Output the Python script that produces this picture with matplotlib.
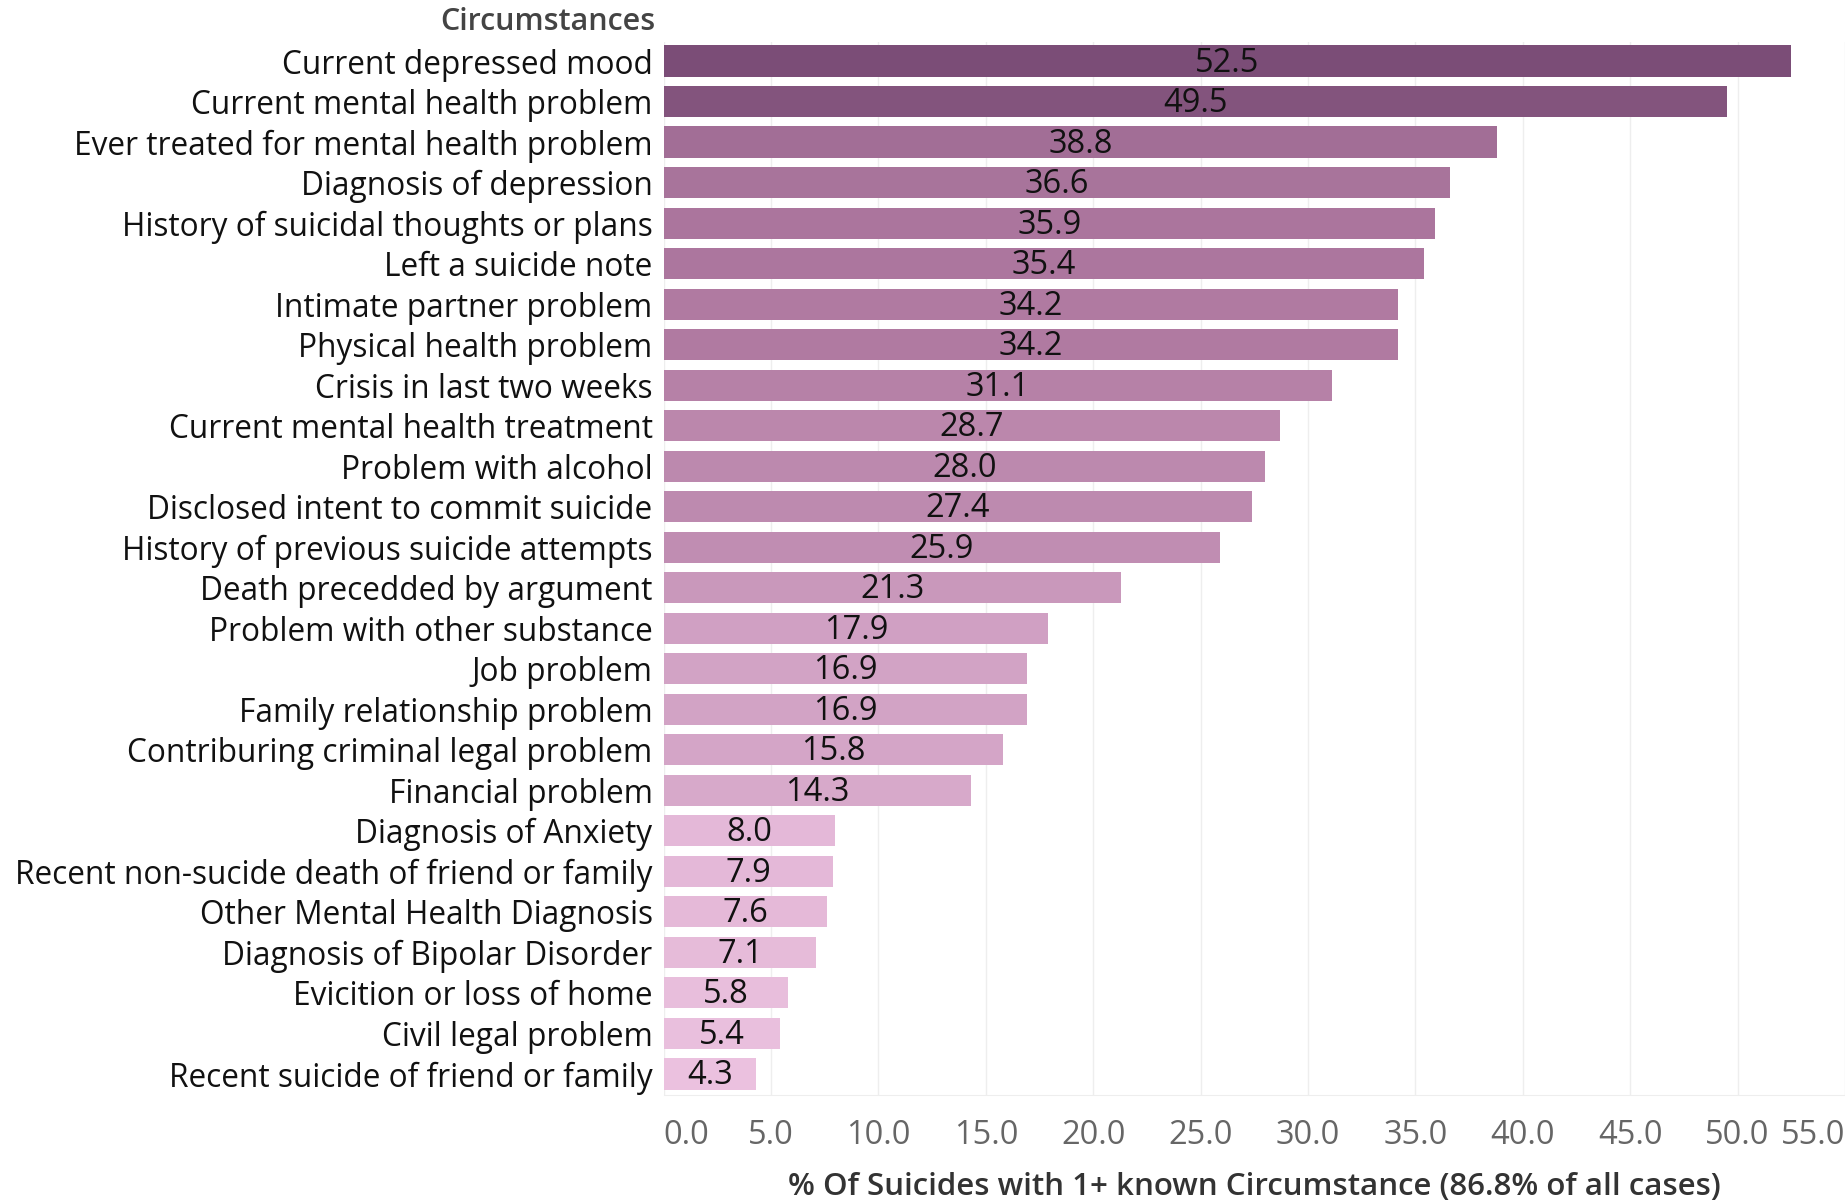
import matplotlib
matplotlib.use("Agg")
import matplotlib.pyplot as plt
from matplotlib.colors import LinearSegmentedColormap, Normalize

categories = [
    "Current depressed mood",
    "Current mental health problem",
    "Ever treated for mental health problem",
    "Diagnosis of depression",
    "History of suicidal thoughts or plans",
    "Left a suicide note",
    "Intimate partner problem",
    "Physical health problem",
    "Crisis in last two weeks",
    "Current mental health treatment",
    "Problem with alcohol",
    "Disclosed intent to commit suicide",
    "History of previous suicide attempts",
    "Death precedded by argument",
    "Problem with other substance",
    "Job problem",
    "Family relationship problem",
    "Contriburing criminal legal problem",
    "Financial problem",
    "Diagnosis of Anxiety",
    "Recent non-sucide death of friend or family",
    "Other Mental Health Diagnosis",
    "Diagnosis of Bipolar Disorder",
    "Evicition or loss of home",
    "Civil legal problem",
    "Recent suicide of friend or family",
]
values = [52.5, 49.5, 38.8, 36.6, 35.9, 35.4, 34.2, 34.2, 31.1, 28.7, 28.0, 27.4,
          25.9, 21.3, 17.9, 16.9, 16.9, 15.8, 14.3, 8.0, 7.9, 7.6, 7.1, 5.8, 5.4, 4.3]
xticks = [0, 5, 10, 15, 20, 25, 30, 35, 40, 45, 50, 55]
header = "Circumstances"
xlabel = "% Of Suicides with 1+ known Circumstance (86.8% of all cases)"

plt.rcParams['font.family'] = ['Open Sans', 'DejaVu Sans']

fig = plt.figure(figsize=(18.45, 12), dpi=100)
ax = fig.add_axes([0.3597, 0.0875, 0.6403, 0.8775])

vmin, vmax = min(values), max(values)
cmap = LinearSegmentedColormap.from_list(
    "purp", [(0.0, "#EBC1DF"), ((34.0 - vmin) / (vmax - vmin), "#B07AA1"), (1.0, "#7B4D77")])
norm = Normalize(vmin=vmin, vmax=vmax)

y = list(range(len(categories)))
ax.barh(y, values, height=0.77, color=[cmap(norm(v)) for v in values], zorder=2)
for yi, v in zip(y, values):
    ax.text(v / 2, yi + 0.05, f"{v:.1f}", ha="center", va="center", fontsize=23.5,
            color="#111111", zorder=3)

ax.set_ylim(len(categories) - 0.5 + 0.02, -0.47)
ax.set_xlim(0, 55)
ax.set_yticks(y)
ax.set_yticklabels(categories, fontsize=22.8, color="#111111")
ax.tick_params(axis="y", length=0, pad=8)
ax.set_xticks(xticks)
labels = ax.set_xticklabels([f"{t:.1f}" for t in xticks], fontsize=23.5, color="#666666")
labels[0].set_ha("left")
labels[-1].set_ha("right")
ax.tick_params(axis="x", length=0, pad=17)
ax.grid(axis="x", color="#EEEEEE", linewidth=1, zorder=0)
for s in ["top", "right", "left"]:
    ax.spines[s].set_visible(False)
ax.spines["bottom"].set_color("#EEEEEE")
ax.set_xlabel(xlabel, fontsize=22.5, fontweight="semibold", color="#333333", labelpad=15)

fig.text(0.3597 - 8 / 1845, 1 - 22 / 1200, header, ha="right", va="center",
         fontsize=22, fontweight="semibold", color="#444444")

fig.savefig("out.png", dpi=100, facecolor="white")
